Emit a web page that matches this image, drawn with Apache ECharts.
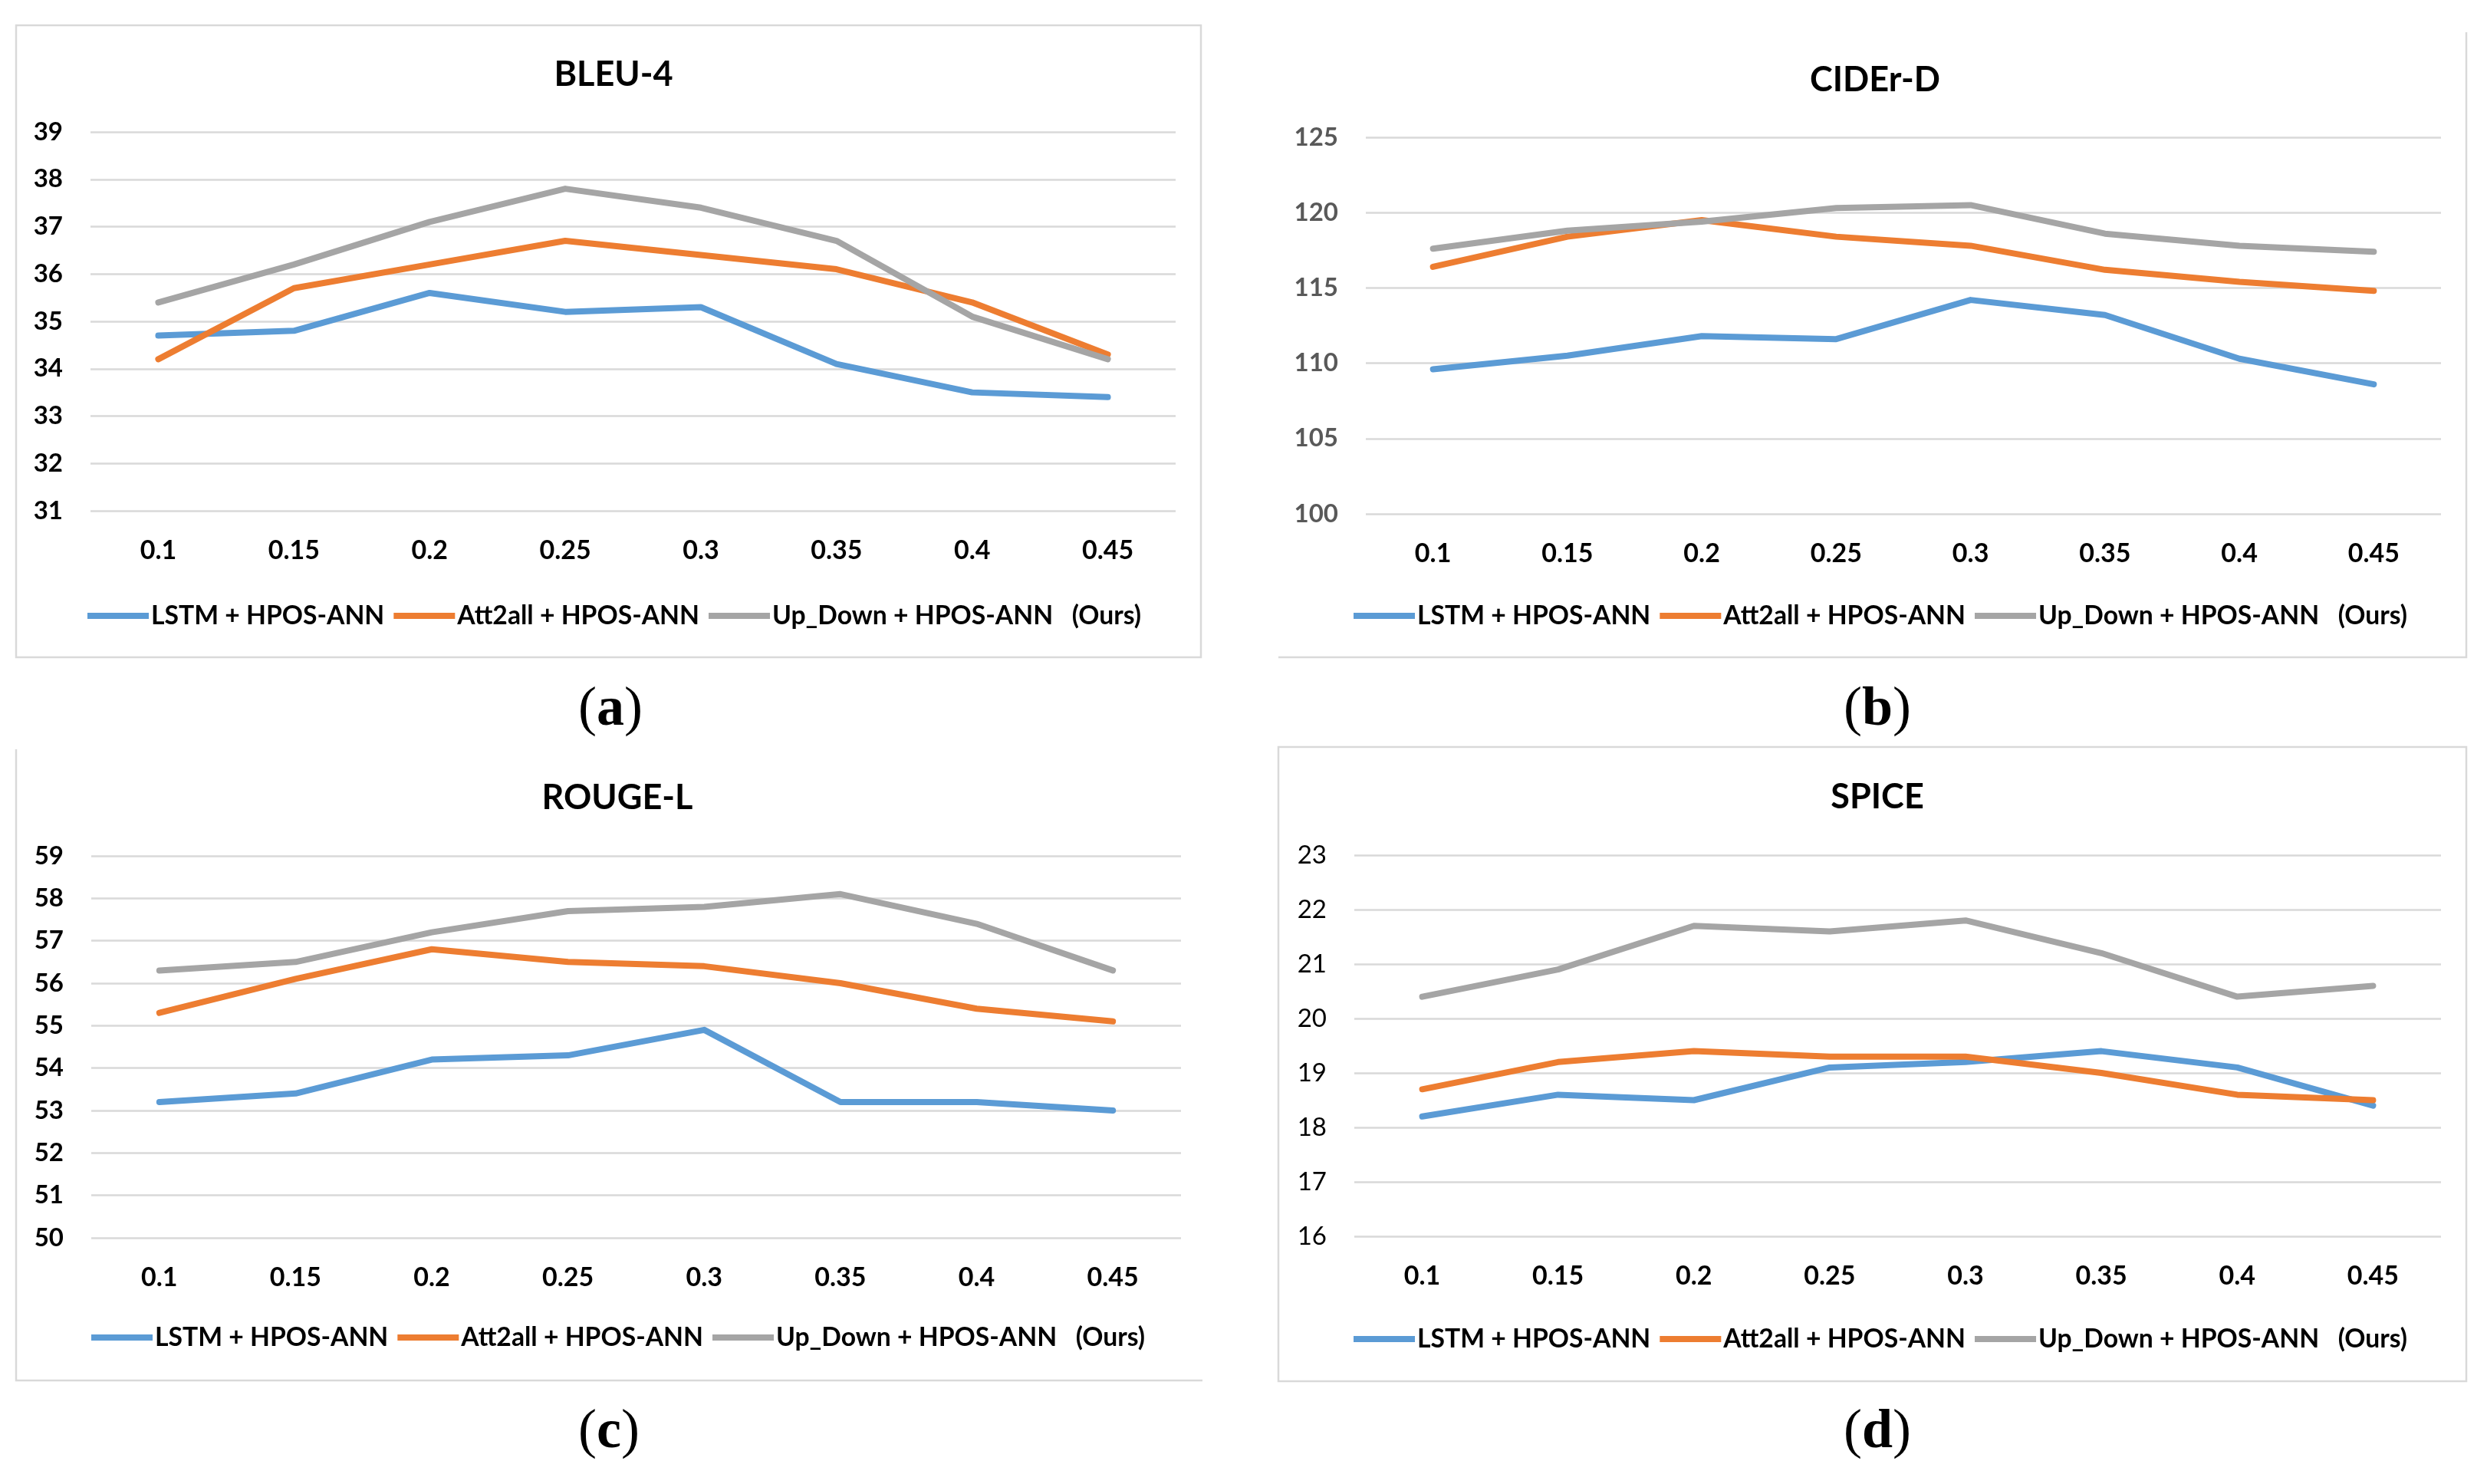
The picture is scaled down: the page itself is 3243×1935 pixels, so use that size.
<!DOCTYPE html>
<html>
<head>
<meta charset="utf-8">
<script src="https://cdn.jsdelivr.net/npm/echarts@6/dist/echarts.min.js"></script>
<style>
html,body{margin:0;padding:0;background:#fff;}
#c{width:3243px;height:1935px;}
</style>
</head>
<body>
<div id="c"></div>
<script>
const categories = ['0.1','0.15','0.2','0.25','0.3','0.35','0.4','0.45'];
const seriesNames = ['LSTM + HPOS-ANN','Att2all + HPOS-ANN','Up_Down + HPOS-ANN   (Ours)'];
const colors = ['#5B9BD5','#ED7D31','#A5A5A5'];

const bleuLSTM   = [34.7,34.8,35.6,35.2,35.3,34.1,33.5,33.4];
const bleuAtt    = [34.2,35.7,36.2,36.7,36.4,36.1,35.4,34.3];
const bleuUpDown = [35.4,36.2,37.1,37.8,37.4,36.7,35.1,34.2];

const ciderLSTM   = [109.6,110.5,111.8,111.6,114.2,113.2,110.3,108.6];
const ciderAtt    = [116.4,118.4,119.5,118.4,117.8,116.2,115.4,114.8];
const ciderUpDown = [117.6,118.8,119.4,120.3,120.5,118.6,117.8,117.4];

const rougeLSTM   = [53.2,53.4,54.2,54.3,54.9,53.2,53.2,53.0];
const rougeAtt    = [55.3,56.1,56.8,56.5,56.4,56.0,55.4,55.1];
const rougeUpDown = [56.3,56.5,57.2,57.7,57.8,58.1,57.4,56.3];

const spiceLSTM   = [18.2,18.6,18.5,19.1,19.2,19.4,19.1,18.4];
const spiceAtt    = [18.7,19.2,19.4,19.3,19.3,19.0,18.6,18.5];
const spiceUpDown = [20.4,20.9,21.7,21.6,21.8,21.2,20.4,20.6];

const titles = ['BLEU-4','CIDEr-D','ROUGE-L','SPICE'];
const captions = ['a','b','c','d'];

const panels = [
  {data:[bleuLSTM,bleuAtt,bleuUpDown], min:31, max:39, interval:1,
   grid:{left:118, top:172, width:1415, height:494}, title:[795,92], legend:[109,781],
   yColor:'#000', yWeight:'bold', cap:[796,932]},
  {data:[ciderLSTM,ciderAtt,ciderUpDown], min:100, max:125, interval:5,
   grid:{left:1781, top:179, width:1402, height:491}, title:[2440,99], legend:[1760,781],
   yColor:'#595959', yWeight:'bold', cap:[2446,932]},
  {data:[rougeLSTM,rougeAtt,rougeUpDown], min:50, max:59, interval:1,
   grid:{left:119, top:1116, width:1421, height:498}, title:[800,1035], legend:[114,1722],
   yColor:'#000', yWeight:'bold', cap:[796,1874]},
  {data:[spiceLSTM,spiceAtt,spiceUpDown], min:16, max:23, interval:1,
   grid:{left:1766, top:1115, width:1417, height:497}, title:[2443,1034], legend:[1760,1724],
   yColor:'#000', yWeight:'normal', cap:[2446,1874]}
];

const FONT = 'Lato, "Open Sans", sans-serif';
const option = {
  backgroundColor:'#fff',
  animation:false,
  color: colors,
  title: [], grid: [], xAxis: [], yAxis: [], legend: [], series: [], graphic: []
};

panels.forEach((p, i) => {
  option.grid.push(p.grid);
  option.title.push({
    text: titles[i], left: p.title[0], top: p.title[1], textAlign:'center', textVerticalAlign:'middle',
    textStyle:{fontFamily:FONT, fontSize:45, fontWeight:'bold', color:'#000'}
  });
  option.xAxis.push({
    type:'category', gridIndex:i, data:categories, boundaryGap:true,
    axisLine:{show:false}, axisTick:{show:false},
    axisLabel:{fontFamily:FONT, fontSize:34, fontWeight:'bold', color:'#000', margin:35}
  });
  option.yAxis.push({
    type:'value', gridIndex:i, min:p.min, max:p.max, interval:p.interval,
    axisLine:{show:false}, axisTick:{show:false},
    axisLabel:{fontFamily:FONT, fontSize:33, fontWeight:p.yWeight, color:p.yColor, margin:36},
    splitLine:{lineStyle:{color:'#D9D9D9', width:2.5}}
  });
  option.legend.push({
    data: seriesNames, left: p.legend[0], top: p.legend[1], orient:'horizontal',
    icon:'rect', itemWidth:80, itemHeight:8, itemGap:12,
    textStyle:{fontFamily:FONT, fontSize:33.7, fontWeight:'bold', color:'#000', padding:[0,0,0,-2]}
  });
  p.data.forEach((d, k) => {
    option.series.push({
      type:'line', name: seriesNames[k], xAxisIndex:i, yAxisIndex:i, data:d,
      symbol:'none', smooth:false,
      lineStyle:{width:8, color:colors[k], cap:'round', join:'round'},
      itemStyle:{color:colors[k]}
    });
  });
  option.graphic.push({
    type:'text', left: p.cap[0]-42, top: p.cap[1]-42,
    style:{
      text:'({b|' + captions[i] + '})',
      font:'72px "Liberation Serif", serif', fill:'#000',
      rich:{b:{font:'bold 72px "Liberation Serif", serif', fill:'#000'}}
    }
  });
});

// panel frames
const frameStyle = {stroke:'#D9D9D9', lineWidth:2.5, fill:'none'};
option.graphic.push(
  {type:'rect', shape:{x:21,y:33,width:1545,height:824}, style:frameStyle, silent:true},
  {type:'polyline', shape:{points:[[1667,857],[3216,857],[3216,42]]}, style:frameStyle, silent:true},
  {type:'polyline', shape:{points:[[21,977],[21,1800],[1568,1800]]}, style:frameStyle, silent:true},
  {type:'rect', shape:{x:1667,y:974,width:1549,height:827}, style:frameStyle, silent:true}
);

const chart = echarts.init(document.getElementById('c'));
chart.setOption(option);
</script>
</body>
</html>
